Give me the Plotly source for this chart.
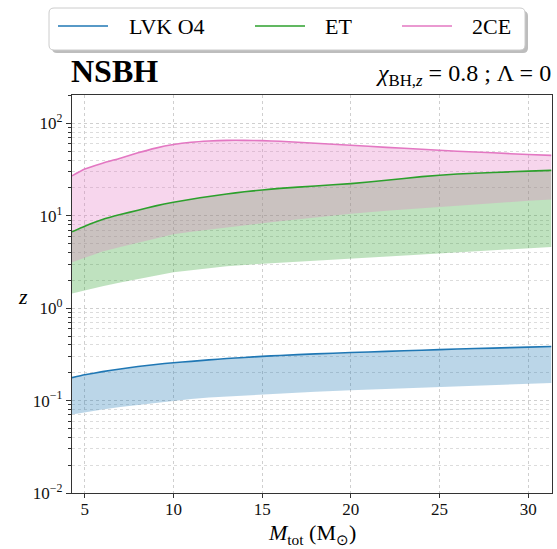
import plotly.graph_objects as go

# total mass grid (Msun)
m_tot = [4.28, 5, 6, 7, 8, 9, 10, 11, 12, 13, 14, 15, 16, 18, 20, 22, 24, 26, 28, 30, 31.3]

# horizon redshift bands: upper edge (line) and lower edge of the shaded band
lvk_hi = [0.177, 0.190, 0.206, 0.220, 0.234, 0.246, 0.257, 0.266, 0.276, 0.285, 0.293,
          0.301, 0.308, 0.320, 0.331, 0.341, 0.351, 0.361, 0.370, 0.379, 0.385]
lvk_lo = [0.0705, 0.0745, 0.080, 0.085, 0.0895, 0.095, 0.100, 0.104, 0.108, 0.111, 0.114,
          0.117, 0.120, 0.125, 0.129, 0.133, 0.138, 0.142, 0.146, 0.151, 0.155]
et_hi = [6.7, 7.7, 9.1, 10.3, 11.5, 12.8, 14.0, 15.1, 16.2, 17.2, 18.2,
         19.0, 19.8, 21.0, 22.3, 24.2, 26.5, 28.3, 29.4, 30.4, 31.0]
et_lo = [1.44, 1.56, 1.73, 1.90, 2.07, 2.27, 2.45, 2.58, 2.72, 2.84, 2.94,
         3.02, 3.09, 3.27, 3.44, 3.62, 3.81, 4.02, 4.24, 4.47, 4.6]
ce_hi = [27, 32, 37, 42, 48, 54, 59, 62.5, 64.5, 65.5, 65.5,
         65, 64, 61, 58, 55, 52.5, 50, 48, 46, 45]
ce_lo = [3.15, 3.5, 4.1, 4.6, 5.1, 5.7, 6.3, 6.7, 7.1, 7.5, 7.9,
         8.3, 8.7, 9.6, 10.5, 11.3, 12.1, 12.9, 13.7, 14.5, 15.0]

series = [
    ("LVK O4", lvk_lo, lvk_hi, "#1f77b4", "rgba(31,119,180,0.3)"),
    ("ET", et_lo, et_hi, "#2ca02c", "rgba(44,160,44,0.3)"),
    ("2CE", ce_lo, ce_hi, "#e377c2", "rgba(227,119,194,0.3)"),
]

y_ticks = [0.01, 0.1, 1, 10, 100]
y_ticktext = ["10<sup>\u22122</sup>", "10<sup>\u22121</sup>", "10<sup>0</sup>",
              "10<sup>1</sup>", "10<sup>2</sup>"]
x_ticks = [5, 10, 15, 20, 25, 30]

FONT = "Liberation Serif, serif"
W, H = 557, 549
L, R, T, B = 72, 5, 95, 56

fig = go.Figure()

# shaded bands first
for name, lo, hi, col, fill in series:
    fig.add_trace(go.Scatter(x=m_tot, y=lo, mode="lines", line=dict(width=0),
                             showlegend=False, hoverinfo="skip"))
    fig.add_trace(go.Scatter(x=m_tot, y=hi, mode="lines", line=dict(width=0),
                             fill="tonexty", fillcolor=fill,
                             showlegend=False, hoverinfo="skip"))

# upper edges as lines on top
for name, lo, hi, col, fill in series:
    fig.add_trace(go.Scatter(x=m_tot, y=hi, mode="lines", name=name, showlegend=False,
                             line=dict(color=col, width=1.6, shape="spline", smoothing=0.5)))

minor_vals = [m * 10 ** e for e in range(-2, 3) for m in range(2, 10)]

fig.update_xaxes(
    range=[4.28, 31.34], tickvals=x_ticks, ticks="outside", ticklen=4,
    tickcolor="#333", showline=True, linecolor="#333", linewidth=1.2, mirror=True,
    showgrid=True, gridcolor="#cfcfcf", griddash="dot", gridwidth=1, zeroline=False,
    tickfont=dict(size=17, family=FONT, color="#111"), ticklabelstandoff=-4,
)
fig.update_yaxes(
    type="log", range=[-2, 2.307], tickvals=y_ticks, ticktext=y_ticktext,
    ticks="outside", ticklen=5, tickcolor="#333",
    showline=True, linecolor="#333", linewidth=1.2, mirror=True,
    showgrid=True, gridcolor="#cfcfcf", griddash="dot", gridwidth=1, zeroline=False,
    tickfont=dict(size=17, family=FONT, color="#111"),
    minor=dict(tickvals=minor_vals, ticks="outside", ticklen=3, tickcolor="#333",
               showgrid=True, gridcolor="#dcdcdc", griddash="dot", gridwidth=1),
)

pw, ph = W - L - R, H - T - B


def px(x):
    return (x - L) / pw


def py(y):
    return (H - B - y) / ph


# rounded legend frame with a soft shadow
x0, x1, y0, y1, r = 49, 525, 8, 50, 5


def rounded(x0, x1, y0, y1, r):
    rx, ry = r / pw, r / ph
    a, b = px(x0), px(x1)
    top, bot = py(y0), py(y1)
    return (f"M {a+rx},{top} L {b-rx},{top} Q {b},{top} {b},{top-ry} "
            f"L {b},{bot+ry} Q {b},{bot} {b-rx},{bot} L {a+rx},{bot} "
            f"Q {a},{bot} {a},{bot+ry} L {a},{top-ry} Q {a},{top} {a+rx},{top} Z")


fig.add_shape(type="path", path=rounded(x0 + 3, x1 + 3, y0 + 3, y1 + 3, r),
              xref="paper", yref="paper", fillcolor="#bdbdbd", line=dict(width=0))
fig.add_shape(type="path", path=rounded(x0, x1, y0, y1, r),
              xref="paper", yref="paper", fillcolor="white",
              line=dict(color="#cccccc", width=1))

# legend entries: line sample + label
legend_x = [(58, 127), (255, 323), (402, 470)]
for (name, lo, hi, col, fill), (lx, tx) in zip(series, legend_x):
    fig.add_shape(type="line", x0=px(lx), x1=px(lx + 50), y0=py(26), y1=py(26),
                  xref="paper", yref="paper", line=dict(color=col, width=1.6))
    fig.add_annotation(text=name, x=px(tx), y=py(27), xref="paper", yref="paper",
                       xanchor="left", yanchor="middle", showarrow=False,
                       font=dict(size=22, family=FONT, color="#000"))

fig.add_annotation(text="<b>NSBH</b>", x=px(69), y=py(91), xref="paper", yref="paper",
                   xanchor="left", yanchor="bottom", showarrow=False,
                   font=dict(size=32, family=FONT, color="#000"))
fig.add_annotation(text="<i>\u03c7</i><sub>BH,<i>z</i></sub> = 0.8 ; \u039b = 0",
                   x=px(553), y=py(92), xref="paper", yref="paper",
                   xanchor="right", yanchor="bottom", showarrow=False,
                   font=dict(size=24, family=FONT, color="#000"))
fig.add_annotation(text="<i>z</i>", x=px(16), y=py(296), xref="paper", yref="paper",
                   showarrow=False, font=dict(size=22, family=FONT, color="#000"))
fig.add_annotation(text="<i>M</i><sub>tot</sub> (M<sub>\u2299</sub>)",
                   x=px(312), y=py(518), xref="paper", yref="paper",
                   xanchor="center", yanchor="top", showarrow=False,
                   font=dict(size=22, family=FONT, color="#000"))

fig.update_layout(
    width=W, height=H,
    margin=dict(l=L, r=R, t=T, b=B),
    paper_bgcolor="white", plot_bgcolor="white",
    font=dict(family=FONT, color="#000"),
    showlegend=False,
)

fig.write_html("out.html", config={"displayModeBar": False},
               post_script="document.body.style.margin='0';")
